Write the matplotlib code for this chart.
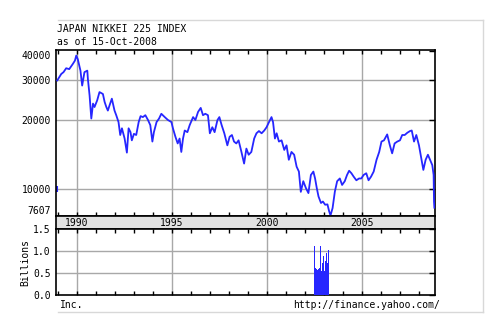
import numpy as np
import matplotlib
matplotlib.use("Agg")
import matplotlib.pyplot as plt
from matplotlib.lines import Line2D

# Nikkei 225 close (decimal years)
years = [1988.97, 1989.08, 1989.18, 1989.30, 1989.44, 1989.60, 1989.79, 1989.90, 1989.97,
         1990.05, 1990.19, 1990.28, 1990.40, 1990.55, 1990.58, 1990.67, 1990.76, 1990.85, 1990.93,
         1991.07, 1991.19, 1991.37, 1991.46, 1991.55, 1991.63, 1991.72, 1991.84, 1991.98,
         1992.07, 1992.19, 1992.28, 1992.37, 1992.51, 1992.63, 1992.72, 1992.82, 1992.89,
         1993.00, 1993.12, 1993.25, 1993.35, 1993.47, 1993.60, 1993.74, 1993.86, 1993.97,
         1994.05, 1994.19, 1994.32, 1994.44, 1994.62, 1994.79, 1994.97,
         1995.05, 1995.18, 1995.30, 1995.40, 1995.49, 1995.58, 1995.67, 1995.81, 1995.93,
         1996.11, 1996.23, 1996.37, 1996.51, 1996.63, 1996.75, 1996.89, 1996.99,
         1997.12, 1997.24, 1997.39, 1997.49, 1997.61, 1997.75, 1997.91,
         1998.03, 1998.15, 1998.26, 1998.38, 1998.50, 1998.65, 1998.79, 1998.91,
         1999.03, 1999.17, 1999.32, 1999.44, 1999.57, 1999.71, 1999.85, 1999.97,
         2000.10, 2000.23, 2000.31, 2000.41, 2000.50, 2000.62, 2000.76, 2000.90,
         2001.02, 2001.14, 2001.28, 2001.42, 2001.55, 2001.67, 2001.77, 2001.90,
         2002.04, 2002.17, 2002.30, 2002.43, 2002.52, 2002.61, 2002.70, 2002.83, 2002.93,
         2003.05, 2003.17, 2003.26, 2003.33, 2003.44, 2003.56, 2003.68, 2003.82, 2003.94,
         2004.08, 2004.20, 2004.31, 2004.43, 2004.55, 2004.69, 2004.83, 2004.95,
         2005.07, 2005.21, 2005.33, 2005.46, 2005.60, 2005.75, 2005.89,
         2006.01, 2006.14, 2006.31, 2006.45, 2006.57, 2006.70, 2006.84, 2006.98,
         2007.10, 2007.23, 2007.37, 2007.51, 2007.60, 2007.72, 2007.84, 2007.98,
         2008.10, 2008.21, 2008.33, 2008.45, 2008.56, 2008.68, 2008.75, 2008.77, 2008.79]
close = [29800, 30800, 31800, 32400, 33700, 33400, 35200, 36400, 38300,
         36900, 32900, 28300, 32400, 32900, 30300, 25600, 20300, 23600, 22800,
         24400, 26500, 26000, 24000, 22800, 22000, 23200, 24800, 22000,
         21000, 19600, 17200, 18400, 16600, 14400, 18400, 17700, 16300,
         17400, 17200, 19600, 20800, 20600, 21000, 20000, 19000, 16100,
         17700, 19600, 20300, 21300, 20600, 20000, 19600,
         18400, 16900, 15800, 16600, 14500, 16600, 18000, 17700, 19000,
         20600, 20000, 21700, 22600, 21000, 21300, 21000, 17500,
         18600, 17700, 20000, 20600, 19000, 17500, 15500,
         16900, 17200, 16100, 15800, 16300, 14500, 12900, 15000,
         14100, 14500, 16600, 17500, 17900, 17500, 18000, 18600,
         19600, 20600, 19600, 16600, 17500, 16100, 16300, 14800,
         15500, 13400, 14500, 14100, 12500, 11900, 9700, 10800,
         10070, 9580, 11500, 11900, 11100, 10070, 9260, 8670, 8800,
         8520, 8550, 7970, 7650, 8240, 9730, 10800, 11100, 10400,
         10800, 11500, 12000, 11700, 11300, 10900, 11100, 11100,
         11500, 11700, 10900, 11300, 11900, 13400, 14500,
         16100, 16300, 17300, 15500, 14300, 15800, 16100, 16300,
         17200, 17200, 17600, 17900, 18000, 16100, 17200, 15500,
         13600, 12100, 13400, 14100, 13400, 12700, 11500, 8800, 8270]

# stray point at the left edge
stray_year = [1988.95]
stray_close = [10000]

# volume (billions), only shown for mid 2002 - early 2003
vol_years = [2002.47, 2002.52, 2002.57, 2002.62, 2002.67, 2002.72, 2002.77, 2002.82,
             2002.87, 2002.92, 2002.97, 2003.02, 2003.07, 2003.12, 2003.17, 2003.22]
vol = [1.12, 0.62, 0.58, 0.56, 0.60, 0.62, 1.12, 0.54,
       0.72, 0.88, 0.54, 0.78, 0.95, 0.68, 0.72, 1.02]

price_ticks = [7607, 10000, 20000, 30000, 40000]
price_grid = [10000, 20000, 30000]
vol_ticks = [0.0, 0.5, 1.0, 1.5]
label_years = [1990, 1995, 2000, 2005]
all_years = list(range(1989, 2009))

blue = "#2626ff"
gridc = "#a8a8a8"
mono = "DejaVu Sans Mono"
fs = 7

fig = plt.figure(figsize=(4.95, 3.33), dpi=100)
fig.patch.set_facecolor("white")

xlim = (1988.93, 2008.82)

# main price panel
ax = fig.add_axes([0.1141, 0.3514, 0.7646, 0.4970])
for y in label_years:
    ax.axvline(y, color=gridc, lw=1, zorder=0)
for v in price_grid:
    ax.axhline(v, color=gridc, lw=1, zorder=0)
ax.plot(years, close, color=blue, lw=1.3, zorder=3)
ax.plot(stray_year, stray_close, color=blue, marker="|", ms=4, mew=1.5, ls="none")
ax.set_yscale("log")
ax.set_ylim(7607, 40300)
ax.set_xlim(*xlim)
ax.set_yticks(price_ticks)
ax.set_yticklabels([str(t) for t in price_ticks], fontsize=fs, family=mono)
ax.yaxis.set_minor_locator(plt.NullLocator())
ax.tick_params(axis="y", which="major", left=False, right=True, direction="in",
               length=4, pad=4, width=1)
labs = ax.get_yticklabels()
labs[0].set_va("bottom")
labs[-1].set_va("top")
ax.set_xticks(all_years)
ax.set_xticklabels([])
ax.xaxis.set_minor_locator(plt.NullLocator())
ax.tick_params(axis="x", top=True, bottom=True, direction="in", length=3, width=1)
for s in ax.spines.values():
    s.set_linewidth(1.2)

# gray year band
band = fig.add_axes([0.1141, 0.3123, 0.7646, 0.0391])
band.set_facecolor("#e2e2e2")
band.set_xlim(*xlim)
band.set_ylim(0, 1)
band.set_xticks([])
band.set_yticks([])
for s in band.spines.values():
    s.set_linewidth(1.2)
for y in label_years:
    band.text(y, 0.45, str(y), ha="center", va="center", fontsize=fs, family=mono)

# volume panel
vx = fig.add_axes([0.1141, 0.1141, 0.7646, 0.1982])
for y in label_years:
    vx.axvline(y, color=gridc, lw=1, zorder=0)
for v in vol_ticks[1:3]:
    vx.axhline(v, color=gridc, lw=1, zorder=0)
vx.bar(vol_years, vol, width=0.056, align="edge", color=blue, lw=0,
       antialiased=False, zorder=3)
vx.set_xlim(*xlim)
vx.set_ylim(0, 1.5)
vx.set_yticks(vol_ticks)
vx.set_yticklabels(["%.1f" % t for t in vol_ticks], fontsize=fs, family=mono)
vx.tick_params(axis="y", left=False, right=True, direction="in", length=4, pad=4, width=1)
vx.set_xticks(all_years)
vx.set_xticklabels([])
vx.tick_params(axis="x", top=True, bottom=True, direction="in", length=3, width=1)
vx.set_ylabel("Billions", fontsize=fs, family=mono, labelpad=2)
for s in vx.spines.values():
    s.set_linewidth(1.2)

# titles and footer
fig.text(0.115, 0.913, "JAPAN NIKKEI 225 INDEX", fontsize=fs, family=mono, va="center")
fig.text(0.115, 0.874, "as of 15-Oct-2008", fontsize=fs, family=mono, va="center")
fig.text(0.121, 0.084, "Inc.", fontsize=fs, family=mono, va="center")
fig.text(0.889, 0.084, "http://finance.yahoo.com/", fontsize=fs, family=mono,
         va="center", ha="right")

# light gray frame
lc = "#d8d8d8"
fig.add_artist(Line2D([0.1166, 0.9764], [0.941, 0.941], color=lc, lw=1))
fig.add_artist(Line2D([0.9764, 0.9764], [0.941, 0.0622], color=lc, lw=1))
fig.add_artist(Line2D([0.1166, 0.9764], [0.0622, 0.0622], color=lc, lw=1))

plt.savefig("out.png", dpi=100)
